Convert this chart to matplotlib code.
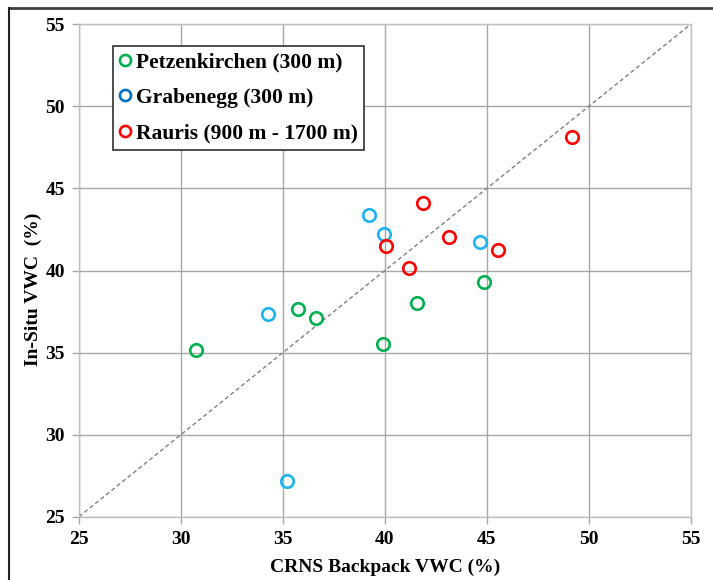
import matplotlib
matplotlib.use("Agg")
import matplotlib.pyplot as plt
from matplotlib.lines import Line2D

plt.rcParams['font.family'] = ['Liberation Serif', 'DejaVu Serif']
plt.rcParams['font.weight'] = 'bold'

# Data (CRNS backpack VWC %, in-situ VWC %)
petz_x = [30.74, 35.73, 36.61, 39.89, 41.59, 44.86]
petz_y = [35.17, 37.63, 37.12, 35.54, 38.02, 39.31]
grab_x = [34.27, 35.22, 39.22, 39.94, 44.65]
grab_y = [37.36, 27.15, 43.41, 42.20, 41.72]
raur_x = [49.19, 41.89, 40.04, 43.16, 45.56, 41.20]
raur_y = [48.13, 44.09, 41.49, 42.04, 41.25, 40.13]

labels = ["Petzenkirchen (300 m)", "Grabenegg (300 m)", "Rauris (900 m - 1700 m)"]
ticks = [25, 30, 35, 40, 45, 50, 55]

green = '#00b050'
blue_pts = '#1db2f0'
blue_leg = '#0070c0'
red = '#ff0000'

fig = plt.figure(figsize=(7.13, 5.80), dpi=100)
ax = fig.add_axes([79/713, 1-516.7/580, (690.7-79)/713, (516.7-24.3)/580])

ax.plot([25, 55], [25, 55], ls=(0, (3, 2)), color='#808080', lw=1.0, zorder=2)

mk = dict(ls='none', marker='o', ms=9, mew=1.9, mfc='none', zorder=3)
ax.plot(petz_x, petz_y, mec=green, **mk)
ax.plot(grab_x, grab_y, mec=blue_pts, **mk)
ax.plot(raur_x, raur_y, mec=red, **mk)

ax.set_xlim(25, 55)
ax.set_ylim(25, 55)
ax.set_xticks(ticks)
ax.set_yticks(ticks)
ax.grid(True, color='#a6a6a6', lw=1.0)
ax.set_axisbelow(True)
for s in ax.spines.values():
    s.set_color('#c0c0c0')
    s.set_linewidth(1.0)
ax.tick_params(direction='out', length=5, width=1, color='#a6a6a6',
               labelsize=14, pad=5)
for t in ax.get_xticklabels() + ax.get_yticklabels():
    t.set_fontweight('bold')

ax.set_xlabel('CRNS Backpack VWC (%)', fontsize=14, fontweight='bold', labelpad=8)
ax.set_ylabel('In-Situ VWC  (%)', fontsize=14, fontweight='bold')
ax.yaxis.set_label_coords(-0.0605, 0.462)

handles = [Line2D([], [], ls='none', marker='o', ms=8, mew=1.9, mfc='none', mec=c)
           for c in (green, blue_leg, red)]
leg = ax.legend(handles, labels, loc='upper left', bbox_to_anchor=(34/611.7, 1-21.5/492.4),
                frameon=True, fancybox=False, shadow=False, framealpha=1,
                edgecolor='#303030', prop={'size': 15.5, 'weight': 'bold'},
                handlelength=0.55, handletextpad=0.2, labelspacing=0.72,
                borderpad=0.3, borderaxespad=0)
leg.get_frame().set_linewidth(1.2)

# outer frame lines (top and left)
fig.add_artist(Line2D([9/713, 1], [1-8/580, 1-8/580], color='#404040', lw=2, transform=fig.transFigure))
fig.add_artist(Line2D([9/713, 9/713], [0, 1-8/580], color='#202020', lw=1.5, transform=fig.transFigure))

fig.savefig('out.png', dpi=100)
